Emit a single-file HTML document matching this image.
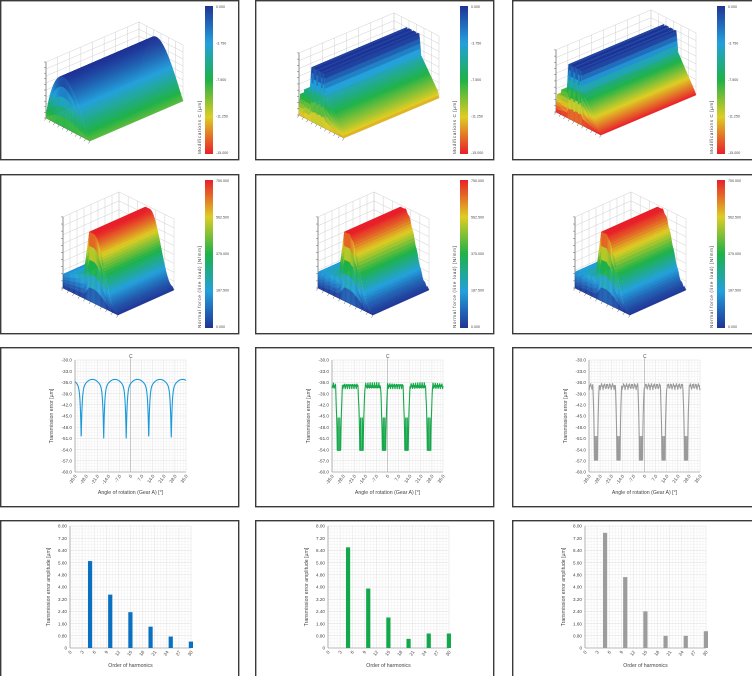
<!DOCTYPE html>
<html><head><meta charset="utf-8"><style>
html,body{margin:0;padding:0;background:#fff;overflow:hidden;width:752px;height:676px;}
svg{display:block;font-family:"Liberation Sans",sans-serif;}
</style></head><body>
<svg id="s" width="752" height="676" viewBox="0 0 752 676" xmlns="http://www.w3.org/2000/svg"></svg>
<script>
const S=document.getElementById('s');const NS='http://www.w3.org/2000/svg';
function el(t,a,txt){const e=document.createElementNS(NS,t);for(const k in a)e.setAttribute(k,a[k]);if(txt!==undefined)e.textContent=txt;S.appendChild(e);return e;}
const cols=[0,255,512],rows=[0,174,347,520];
const stops=[[0,[232,32,42]],[0.25,[222,205,35]],[0.5,[30,178,72]],[0.75,[35,160,220]],[1,[32,52,150]]];
function cm(v){v=Math.max(0,Math.min(1,v));for(let i=1;i<stops.length;i++){if(v<=stops[i][0]){const a=stops[i-1],b=stops[i];const f=(v-a[0])/(b[0]-a[0]);const c=a[1].map((x,j)=>Math.round(x+(b[1][j]-x)*f));return `rgb(${c})`;}}return 'rgb(32,52,150)';}
const defs=el('defs',{});
function grad(id,y1,y2){const lg=document.createElementNS(NS,'linearGradient');lg.setAttribute('id',id);lg.setAttribute('x1','0');lg.setAttribute('y1',y1);lg.setAttribute('x2','0');lg.setAttribute('y2',y2);
stops.forEach(s=>{const st=document.createElementNS(NS,'stop');st.setAttribute('offset',s[0]);st.setAttribute('stop-color',`rgb(${s[1]})`);lg.appendChild(st);});defs.appendChild(lg);}
grad('cb','1','0');grad('cb2','0','1');
for(const r of rows)for(const c of cols){el('rect',{x:c+0.7,y:r+0.7,width:(c==512?260:238),height:(r==520?158:159),fill:'#fff',stroke:'#3a3a3a','stroke-width':1.4});}
function lerp(a,b,f){return [a[0]+(b[0]-a[0])*f,a[1]+(b[1]-a[1])*f];}
function gridQuad(p,n,m){for(let i=0;i<=n;i++){const a=lerp(p[0],p[1],i/n),b=lerp(p[3],p[2],i/n);el('line',{x1:a[0],y1:a[1],x2:b[0],y2:b[1],stroke:'#cfcfcf','stroke-width':0.5});}
for(let j=0;j<=m;j++){const a=lerp(p[0],p[3],j/m),b=lerp(p[1],p[2],j/m);el('line',{x1:a[0],y1:a[1],x2:b[0],y2:b[1],stroke:'#cfcfcf','stroke-width':0.5});}}
function surf3d(ox,oy,O,D,V,H,top,prof,cmv){
  const P=(t,s,z)=>[ox+O[0]+t*D[0]+s*V[0],oy+O[1]+t*D[1]+s*V[1]-z*H];
  gridQuad([P(0,0,top),P(0,1,top),P(0,1,0),P(0,0,0)],8,8);
  gridQuad([P(0,1,top),P(1,1,top),P(1,1,0),P(0,1,0)],6,8);
  gridQuad([P(0,0,0),P(0,1,0),P(1,1,0),P(1,0,0)],8,6);
  el('line',{x1:P(0,0,0)[0],y1:P(0,0,0)[1],x2:P(0,0,top)[0],y2:P(0,0,top)[1],stroke:'#555','stroke-width':0.6});
  el('line',{x1:P(0,0,0)[0],y1:P(0,0,0)[1],x2:P(1,0,0)[0],y2:P(1,0,0)[1],stroke:'#555','stroke-width':0.6});
  for(let i=0;i<=10;i++){const a=P(0,0,top*i/10);el('line',{x1:a[0]-2,y1:a[1],x2:a[0],y2:a[1],stroke:'#666','stroke-width':0.5});
    const b=P(i/10,0,0);el('line',{x1:b[0],y1:b[1],x2:b[0]-1.5,y2:b[1]+2.5,stroke:'#666','stroke-width':0.5});}
  const N=100;
  for(let i=0;i<N;i++){const t0=i/N,t1=(i+1)/N;const z0=prof(t0),z1=prof(t1);
    const pts=[P(t0,0,z0),P(t0,1,z0),P(t1,1,z1),P(t1,0,z1)];const c=cm(cmv((z0+z1)/2));
    el('polygon',{points:pts.map(p=>p.join(',')).join(' '),fill:c,stroke:c,'stroke-width':0.4});}
  for(let i=0;i<N;i++){const t=i/N,z=Math.min(prof(t),prof(t+1/N));for(let k=0;k<5;k++){const za=z*k/5,zb=z*(k+1)/5;const a=P(t,0,za),b=P(t,0,zb),c=P(t+1/N,0,zb),d=P(t+1/N,0,za);const col=cm(cmv((za+zb)/2));
    el('polygon',{points:[a,b,c,d].map(p=>p.join(',')).join(' '),fill:col,stroke:col,'stroke-width':0.3});}}
}
function colorbar(ox,oy,labels,title,g){
  el('rect',{x:ox+205,y:oy+6,width:8,height:148,fill:'url(#'+g+')'});
  labels.forEach((l,i)=>el('text',{x:ox+216,y:oy+8+i*36.5,'font-size':3.6,fill:'#444'},l));
  el('text',{x:0,y:0,'font-size':4.6,fill:'#444',transform:`translate(${ox+201},${oy+154}) rotate(-90)`,'letter-spacing':'0.6'},title);
}
const r1lab=['0.000','-3.750','-7.500','-11.250','-15.000'];
surf3d(0,0,[46,118],[44,23],[93,-40],50,1.12,t=>Math.max(0,Math.sin(Math.PI*Math.pow(t,0.75))),z=>0.42+z*0.58);
colorbar(0,0,r1lab,'Modifications C [µm]','cb');
function prof1(t,lo){let z;
  if(t<0.03)z=lo+t/0.03*0.25; else if(t<0.12)z=lo+0.28; else if(t<0.24)z=lo+0.4; else if(t<0.28)z=lo+0.4+(t-0.24)/0.04*(1-lo-0.4);
  else if(t<0.56)z=(Math.floor(t*40)%4==0)?0.9:1; else if(t<0.6)z=1-(t-0.56)/0.04*0.35; else if(t<0.97)z=0.62-(t-0.6)/0.37*(0.62-lo); else z=lo*(1-(t-0.97)/0.03);
  return z;}
surf3d(255,0,[44,115],[45,23],[95,-40],54,1.15,t=>prof1(t,0.12),z=>0.2+z*0.8);
colorbar(255,0,r1lab,'Modifications C [µm]','cb');
surf3d(512,0,[44,112],[45,23],[95,-40],54,1.15,t=>prof1(t,0.06),z=>z*1.0);
colorbar(512,0,r1lab,'Modifications C [µm]','cb');
const r2lab=['750.000','562.500','375.000','187.500','0.000'];
function prof2(t,n){let z;
  if(t<0.38)z=0.2+0.4*t+(n?0.03*Math.sin(t*110)+0.02*Math.sin(t*37):0);
  else if(t<0.48)z=0.35+(t-0.38)/0.1*0.65; else if(t<0.56)z=1;
  else if(t<0.97)z=0.04+0.96*(0.5+0.5*Math.cos(Math.PI*(t-0.56)/0.41))+(n?0.015*Math.sin(t*90):0); else z=0.04*(1-(t-0.97)/0.03);
  return z;}
[[0,0],[255,1],[512,1]].forEach(([c,n])=>{surf3d(c,174,[63,114],[55,27],[56,-25],69,1.03,t=>prof2(t,n),z=>1-z);colorbar(c,174,r2lab,'Normal force (line load) [N/mm]','cb2');});
function lineChart(ox,color,fn){
  const X0=75+ox,X1=186+ox,Y0=360,Y1=472;
  for(let i=0;i<=40;i++){const x=X0+(X1-X0)*i/40;el('line',{x1:x,y1:Y0,x2:x,y2:Y1,stroke:i%4?'#f0f0f0':'#dedede','stroke-width':0.5});}
  for(let i=0;i<=40;i++){const y=Y0+(Y1-Y0)*i/40;el('line',{x1:X0,y1:y,x2:X1,y2:y,stroke:i%4?'#f0f0f0':'#dedede','stroke-width':0.5});}
  el('line',{x1:X0,y1:Y0,x2:X0,y2:Y1,stroke:'#888','stroke-width':0.6});el('line',{x1:X0,y1:Y1,x2:X1,y2:Y1,stroke:'#888','stroke-width':0.6});
  el('line',{x1:(X0+X1)/2,y1:Y0-3,x2:(X0+X1)/2,y2:Y1,stroke:'#aaa','stroke-width':0.6});
  el('text',{x:(X0+X1)/2-1.5,y:Y0-2,'font-size':5,fill:'#555'},'C');
  for(let i=0;i<=10;i++){const y=Y0+(Y1-Y0)*i/10;el('text',{x:X0-3,y:y+1.7,'font-size':4.6,fill:'#444','text-anchor':'end'},(-30-3*i).toFixed(1));}
  const xl=['-35.0','-28.0','-21.0','-14.0','-7.0','0','7.0','14.0','21.0','28.0','35.0'];
  xl.forEach((l,i)=>{const x=X0+(X1-X0)*i/10;el('text',{x:0,y:0,'font-size':4.6,fill:'#444','text-anchor':'end',transform:`translate(${x+2},${Y1+4}) rotate(-55)`},l);});
  el('text',{x:(X0+X1)/2,y:Y1+22,'font-size':5.2,fill:'#444','text-anchor':'middle'},'Angle of rotation (Gear A) [°]');
  el('text',{x:0,y:0,'font-size':5.2,fill:'#444','text-anchor':'middle',transform:`translate(${X0-22},${(Y0+Y1)/2}) rotate(-90)`},'Transmission error [µm]');
  let d='';const N=800;
  for(let i=0;i<=N;i++){const xv=-35+70*i/N;let yv=fn(xv);yv=Math.max(-60,Math.min(-30,yv));const px=X0+(xv+35)/70*(X1-X0),py=Y0+(-30-yv)/30*(Y1-Y0);d+=(i?'L':'M')+px.toFixed(2)+','+py.toFixed(2);}
  el('path',{d:d,fill:'none',stroke:color,'stroke-width':1.1,'stroke-linejoin':'round'});
}
function dist(x,start){const p=14.2;let u=((x-start)%p+p)%p;return Math.min(u,p-u);}
lineChart(0,'#1b9ad8',x=>{const d=dist(x,-31.1);const q=Math.max(0,1-d/7);return -35.2-3*q*q-13*Math.pow(q,12);});
lineChart(257,'#17a84c',x=>{const d=dist(x,-30.6);
  if(d<1.1){const a=Math.abs(d-0.5);if(a<0.08)return -45.5;if(Math.abs(d-0.85)<0.06)return -48;return -54.2;}
  const base=-36.4-0.9*Math.abs(Math.sin(x*2.3))+0.4*Math.sin(x*9);
  if(d<2.2){const f=(d-1.1)/1.1;return -54.2+(base+54.2)*Math.pow(f,0.6);}
  return base;});
lineChart(514,'#9a9a9a',x=>{const d=dist(x,-30.6);
  if(d<1.05){if(Math.abs(d-0.45)<0.1)return -50.5;if(Math.abs(d-0.85)<0.06)return -52;return -56.8;}
  const base=-37.5+1.2*Math.abs(Math.sin(x*1.8))-0.5*Math.abs(Math.sin(x*5));
  if(d<2){const f=(d-1.05)/0.95;return -56.8+(base+56.8)*Math.pow(f,0.5);}
  return base;});
function barChart(ox,color,vals){
  const X0=70+ox,X1=191+ox,Y0=526,Y1=648;
  for(let i=0;i<=40;i++){const x=X0+(X1-X0)*i/40;el('line',{x1:x,y1:Y0,x2:x,y2:Y1,stroke:i%4?'#f0f0f0':'#dedede','stroke-width':0.5});}
  for(let i=0;i<=40;i++){const y=Y0+(Y1-Y0)*i/40;el('line',{x1:X0,y1:y,x2:X1,y2:y,stroke:i%4?'#f0f0f0':'#dedede','stroke-width':0.5});}
  el('line',{x1:X0,y1:Y0,x2:X0,y2:Y1,stroke:'#888','stroke-width':0.6});el('line',{x1:X0,y1:Y1,x2:X1,y2:Y1,stroke:'#888','stroke-width':0.6});
  const yl=['0','0.80','1.60','2.40','3.20','4.00','4.80','5.60','6.40','7.20','8.00'];
  yl.forEach((l,i)=>{const y=Y1-(Y1-Y0)*i/10;el('text',{x:X0-3,y:y+1.7,'font-size':4.6,fill:'#444','text-anchor':'end'},l);});
  for(let i=0;i<=10;i++){const x=X0+(X1-X0)*i/10;el('text',{x:0,y:0,'font-size':4.6,fill:'#444','text-anchor':'end',transform:`translate(${x+2},${Y1+4}) rotate(-55)`},String(i*3));}
  el('text',{x:(X0+X1)/2,y:Y1+19,'font-size':5.2,fill:'#444','text-anchor':'middle'},'Order of harmonics');
  el('text',{x:0,y:0,'font-size':5.2,fill:'#444','text-anchor':'middle',transform:`translate(${X0-20},${(Y0+Y1)/2}) rotate(-90)`},'Transmission error amplitude [µm]');
  vals.forEach((v,i)=>{const x=X0+(X1-X0)*(5*(i+1))/30;const h=(Y1-Y0)*v/8;el('rect',{x:x-2.2,y:Y1-h,width:4.2,height:h,fill:color});});
}
barChart(0,'#0a70c2',[5.7,3.5,2.35,1.4,0.75,0.42]);
barChart(258,'#14a84c',[6.6,3.9,2.0,0.6,0.95,0.95]);
barChart(515,'#9c9c9c',[7.55,4.65,2.4,0.8,0.8,1.1]);
</script>
</body></html>
